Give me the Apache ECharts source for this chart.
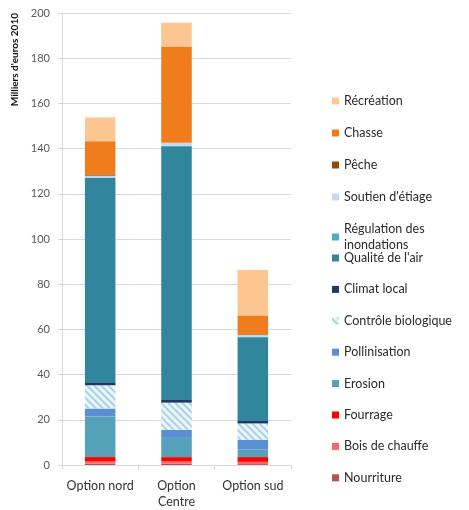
<!DOCTYPE html>
<html>
<head>
<meta charset="utf-8">
<script src="https://cdn.jsdelivr.net/npm/echarts@6/dist/echarts.min.js"></script>
<style>html,body{margin:0;padding:0;background:#fff}#c{width:469px;height:510px}</style>
</head>
<body>
<div id="c"></div>
<script>
// Categories
var categories = ['Option nord', 'Option\nCentre', 'Option sud'];
// Series values (Option nord, Option Centre, Option sud), in Milliers d'euros 2010
var nourriture = [0.6, 0.6, 0.4];
var boisDeChauffe = [1.0, 1.0, 1.0];
var fourrage = [1.9, 1.9, 2.1];
var erosion = [18.0, 8.5, 3.3];
var pollinisation = [3.5, 3.6, 4.3];
var controleBiologique = [10.3, 12.0, 7.3];
var climatLocal = [1.0, 1.2, 1.1];
var qualiteAir = [90.7, 112.2, 37.0];
var regulationInondations = [0.2, 0.3, 0.3];
var soutienEtiage = [0.8, 1.3, 0.7];
var peche = [0.3, 0.0, 0.3];
var chasse = [15.0, 42.6, 8.4];
var recreation = [10.5, 10.5, 20.1];
// Y ticks
var yMin = 0, yMax = 200, yStep = 20;

var FONT = 'Lato, "Open Sans", sans-serif';
var seriesDefs = [
  {name: 'Nourriture', data: nourriture, color: '#B9504E'},
  {name: 'Bois de chauffe', data: boisDeChauffe, color: '#FF6464'},
  {name: 'Fourrage', data: fourrage, color: '#FF0000'},
  {name: 'Erosion', data: erosion, color: '#55A1B9'},
  {name: 'Pollinisation', data: pollinisation, color: '#5A8FD3'},
  {name: 'Contrôle biologique', data: controleBiologique, color: '#EAF5F9',
    decal: {symbol: 'rect', color: '#A9D3E3', dashArrayX: [1, 0], dashArrayY: [2, 3], rotation: Math.PI / 4, symbolSize: 1}},
  {name: 'Climat local', data: climatLocal, color: '#1F3864'},
  {name: "Qualité de l'air", data: qualiteAir, color: '#31869D'},
  {name: 'Régulation des inondations', data: regulationInondations, color: '#4BACC6'},
  {name: "Soutien d'étiage", data: soutienEtiage, color: '#C6D9F1'},
  {name: 'Pêche', data: peche, color: '#984807'},
  {name: 'Chasse', data: chasse, color: '#EF7D1C'},
  {name: 'Récréation', data: recreation, color: '#FCC692'}
];

var series = seriesDefs.map(function (d) {
  var st = {color: d.color};
  if (d.decal) st.decal = d.decal;
  return {
    name: d.name, type: 'bar', stack: 'total', data: d.data,
    barWidth: '40%', itemStyle: st, emphasis: {disabled: true}
  };
});

var legendText = {fontFamily: FONT, fontSize: 12.5, color: '#2b2b2b', lineHeight: 16};
var chart = echarts.init(document.getElementById('c'), null, {renderer: 'canvas'});
chart.setOption({
  animation: false,
  backgroundColor: '#fff',
  grid: {left: 62, right: 178, top: 13, bottom: 43},
  legend: [
    {
      orient: 'vertical', left: 327, top: 88, itemWidth: 7, itemHeight: 7, itemGap: 16,
      icon: 'rect', textStyle: legendText,
      formatter: function (n) { return n === 'Régulation des inondations' ? 'Régulation des\ninondations' : n; },
      data: ['Récréation', 'Chasse', 'Pêche', "Soutien d'étiage", 'Régulation des inondations']
    },
    {
      orient: 'vertical', left: 327, top: 245, itemWidth: 7, itemHeight: 7, itemGap: 15.4,
      icon: 'rect', textStyle: legendText,
      data: ["Qualité de l'air", 'Climat local', 'Contrôle biologique', 'Pollinisation', 'Erosion', 'Fourrage', 'Bois de chauffe', 'Nourriture']
    }
  ],
  xAxis: {
    type: 'category', data: categories,
    axisLine: {show: true, lineStyle: {color: '#D9D9D9'}},
    axisTick: {show: true, length: 4, lineStyle: {color: '#D9D9D9'}},
    axisLabel: {interval: 0, fontFamily: FONT, fontSize: 12.5, color: '#333', margin: 13, lineHeight: 16}
  },
  yAxis: {
    type: 'value', min: yMin, max: yMax, interval: yStep,
    name: "Milliers d'euros 2010", nameLocation: 'end', nameRotate: 90, nameGap: 0,
    nameTextStyle: {fontFamily: FONT, fontSize: 10, fontWeight: 'bold', color: '#111', align: 'right', verticalAlign: 'bottom', padding: [0, 0, 42, 0]},
    axisLine: {show: true, lineStyle: {color: '#D9D9D9'}},
    axisTick: {show: true, length: 4, lineStyle: {color: '#D9D9D9'}},
    splitLine: {show: true, lineStyle: {color: '#D9D9D9'}},
    axisLabel: {fontFamily: FONT, fontSize: 11, color: '#595959', margin: 12}
  },
  series: series
});
</script>
</body>
</html>
